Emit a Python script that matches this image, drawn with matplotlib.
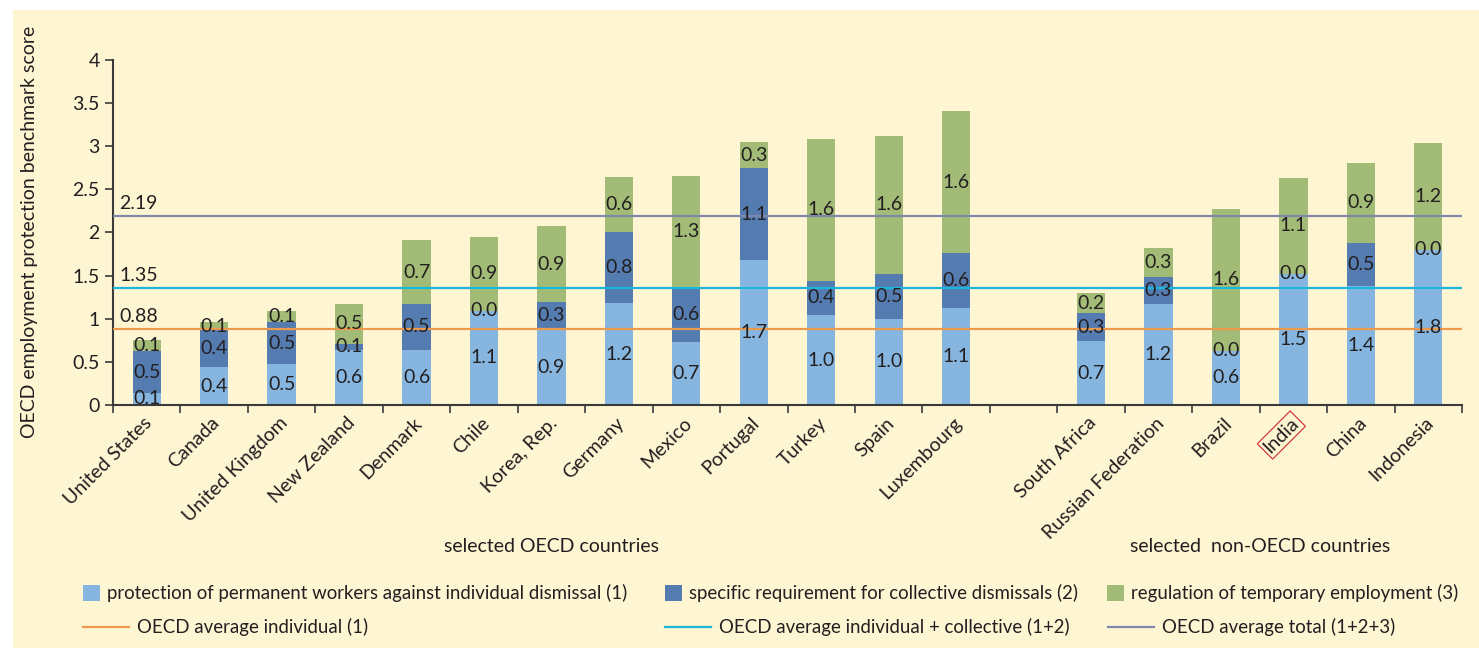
import matplotlib
matplotlib.use("Agg")
import matplotlib.pyplot as plt
import matplotlib.transforms as mtransforms
from matplotlib.patches import Rectangle
from matplotlib.lines import Line2D
import numpy as np

plt.rcParams["font.family"] = ["Lato", "DejaVu Sans"]

# --- data ---
oecd = ["United States", "Canada", "United Kingdom", "New Zealand", "Denmark", "Chile",
        "Korea, Rep.", "Germany", "Mexico", "Portugal", "Turkey", "Spain", "Luxembourg"]
non_oecd = ["South Africa", "Russian Federation", "Brazil", "India", "China", "Indonesia"]

individual_oecd = [0.14, 0.44, 0.47, 0.64, 0.64, 1.09, 0.88, 1.18, 0.73, 1.68, 1.04, 1.00, 1.12]
collective_oecd = [0.48, 0.43, 0.49, 0.07, 0.53, 0.00, 0.31, 0.82, 0.63, 1.06, 0.40, 0.52, 0.64]
temporary_oecd = [0.13, 0.09, 0.13, 0.46, 0.74, 0.86, 0.88, 0.64, 1.29, 0.31, 1.64, 1.60, 1.64]

individual_non = [0.74, 1.17, 0.63, 1.52, 1.38, 1.80]
collective_non = [0.32, 0.31, 0.00, 0.00, 0.50, 0.00]
temporary_non = [0.24, 0.34, 1.64, 1.11, 0.92, 1.24]

avg_individual = 0.88
avg_ind_coll = 1.35
avg_total = 2.19

series_names = ["protection of permanent workers against individual dismissal (1)",
                "specific requirement for collective dismissals (2)",
                "regulation of temporary employment (3)"]
line_names = ["OECD average individual (1)",
              "OECD average individual + collective (1+2)",
              "OECD average total (1+2+3)"]

# colours
BG = "#FEF5D3"
C_IND = "#86B6DF"
C_COLL = "#547CB1"
C_TEMP = "#A2BB76"
C_L1 = "#EE9A4D"
C_L2 = "#1CB6DA"
C_L3 = "#7F88AB"
TXT = "#231F20"
FS = 14
FS_LEG = 13.4

W, H = 1479, 648
fig = plt.figure(figsize=(W / 100, H / 100), dpi=100, facecolor="white")
fig.add_artist(Rectangle((13 / W, 0), 1, 1 - 10 / H, transform=fig.transFigure,
                         facecolor=BG, edgecolor="none", zorder=0))

ax = fig.add_axes([113 / W, 1 - 405 / H, (1462 - 113) / W, (405 - 59.7) / H])
ax.patch.set_alpha(0)

pos_oecd = np.arange(len(oecd))
pos_non = np.arange(len(non_oecd)) + len(oecd) + 1
pos = np.concatenate([pos_oecd, pos_non])

ind = np.array(individual_oecd + individual_non)
coll = np.array(collective_oecd + collective_non)
temp = np.array(temporary_oecd + temporary_non)

bw = 0.42
ax.bar(pos, ind, bw, color=C_IND, zorder=2)
ax.bar(pos, coll, bw, bottom=ind, color=C_COLL, zorder=2)
ax.bar(pos, temp, bw, bottom=ind + coll, color=C_TEMP, zorder=2)

# segment value labels
for x, a, b, c in zip(pos, ind, coll, temp):
    for bottom, val in ((0, a), (a, b), (a + b, c)):
        ax.text(x, bottom + val / 2, f"{val:.1f}", ha="center", va="center",
                fontsize=FS, color=TXT, zorder=4)

# OECD average lines
for yv, col in ((avg_individual, C_L1), (avg_ind_coll, C_L2), (avg_total, C_L3)):
    ax.axhline(yv, color=col, lw=1.6, zorder=3)
    ax.text(-0.41, yv + 0.05, f"{yv:.2f}", ha="left", va="bottom", fontsize=FS, color=TXT)

n_slots = len(oecd) + 1 + len(non_oecd)
ax.set_xlim(-0.5, n_slots - 0.5)
ax.set_ylim(0, 4)
ax.set_yticks(np.arange(0, 4.01, 0.5))
ax.set_yticklabels(["0", "0.5", "1", "1.5", "2", "2.5", "3", "3.5", "4"])
ax.set_xticks(np.arange(-0.5, n_slots, 1.0))
ax.set_xticklabels([])
ax.tick_params(axis="both", direction="out", length=6, width=1.2, color="#3a3a3a",
               labelsize=FS, labelcolor=TXT)
for s in ("top", "right"):
    ax.spines[s].set_visible(False)
for s in ("left", "bottom"):
    ax.spines[s].set_color("#3a3a3a")
    ax.spines[s].set_linewidth(1.5)

# rotated country labels
off = mtransforms.offset_copy(ax.get_xaxis_transform(), fig=fig, x=2, y=-11, units="points")
for x, name in zip(pos, oecd + non_oecd):
    kw = {}
    if name == "India":
        kw["bbox"] = dict(boxstyle="square,pad=0.12", facecolor="none", edgecolor="#D22630", lw=0.8)
    ax.text(x, 0, name, rotation=45, rotation_mode="anchor", ha="right", va="center",
            fontsize=FS, color=TXT, transform=off, **kw)

# group labels
blend = mtransforms.blended_transform_factory(ax.transData, fig.transFigure)
ax.text((pos_oecd[0] + pos_oecd[-1]) / 2, 1 - 546 / H, "selected OECD countries",
        ha="center", va="center", fontsize=FS, color=TXT, transform=blend)
ax.text((pos_non[0] + pos_non[-1]) / 2, 1 - 546 / H, "selected  non-OECD countries",
        ha="center", va="center", fontsize=FS, color=TXT, transform=blend)

fig.text(30 / W, 1 - 232 / H, "OECD employment protection benchmark score", rotation=90,
         ha="center", va="center", fontsize=FS, color=TXT)

# legend, placed by hand
y1, y2 = 1 - 593 / H, 1 - 627 / H
for x0, col, label in ((83, C_IND, series_names[0]), (665, C_COLL, series_names[1]),
                       (1107, C_TEMP, series_names[2])):
    fig.add_artist(Rectangle((x0 / W, y1 - 8 / H), 17 / W, 16 / H, transform=fig.transFigure,
                             facecolor=col, edgecolor="none"))
    fig.text((x0 + 24) / W, y1, label, ha="left", va="center", fontsize=FS_LEG, color=TXT)
for x0, col, label in ((83, C_L1, line_names[0]), (665, C_L2, line_names[1]),
                       (1108, C_L3, line_names[2])):
    fig.add_artist(Line2D([x0 / W, (x0 + 46) / W], [y2, y2], transform=fig.transFigure,
                          color=col, lw=1.6))
    fig.text((x0 + 54) / W, y2, label, ha="left", va="center", fontsize=FS_LEG, color=TXT)

fig.savefig("out.png", dpi=100, facecolor="white")
